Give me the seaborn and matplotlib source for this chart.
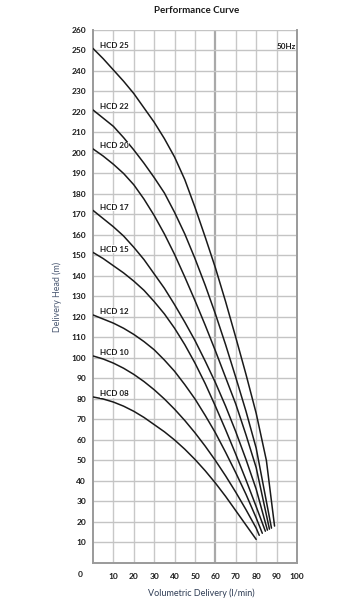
import matplotlib
matplotlib.use('Agg')
import matplotlib.pyplot as plt
import seaborn as sns
import pandas as pd

# pump curves (flow l/min, head m)
models = ['HCD 08', 'HCD 10', 'HCD 12', 'HCD 15', 'HCD 17', 'HCD 20', 'HCD 22', 'HCD 25']

q_base = [0, 5, 10, 15, 20, 25, 30, 35, 40, 45, 50, 55, 60, 65, 70, 75, 80]

q_08 = q_base
h_08 = [81, 80, 78.5, 76.5, 74, 71, 67.5, 64, 60, 55.5, 50.5, 45, 39, 32.5, 25.5, 18.5, 11.5]

q_10 = q_base + [81.5]
h_10 = [101, 99.5, 97.5, 95, 92, 88.5, 84.5, 80, 75, 69.5, 63.5, 57, 50, 42.5, 34.5, 26, 17, 13.5]

q_12 = q_base + [83]
h_12 = [121, 119, 117, 114.5, 111.5, 108, 104, 99, 93.5, 87, 80, 72, 63.5, 54, 44, 33.5, 22, 14.5]

q_15 = q_base + [84.5]
h_15 = [151.5, 148.5, 145, 141.5, 137.5, 133, 127.5, 121.5, 114.5, 106.5, 97.5, 87.5, 76.5, 65, 53, 40.5, 27.5, 15.5]

q_17 = q_base + [85.5]
h_17 = [172, 168, 164, 159.5, 154, 148, 141, 134, 126, 117.5, 108.5, 98.5, 88, 76.5, 64, 50.5, 36, 16]

q_20 = q_base + [86.5]
h_20 = [202, 198.5, 194.5, 190, 184.5, 177.5, 169.5, 160.5, 150.5, 139.5, 128, 116, 103.5, 90.5, 77.5, 62.5, 46.5, 16.5]

q_22 = q_base + [87.5]
h_22 = [221, 217, 213, 207.5, 201.5, 195, 188, 180.5, 171, 160.5, 148.5, 135.5, 121.5, 106.5, 90.5, 74, 56, 17]

q_25 = q_base + [85, 89]
h_25 = [251, 246, 240.5, 235, 229, 222, 215, 207, 198, 187, 173.5, 159, 144, 127.5, 110, 92, 73, 50, 18]

flows = [q_08, q_10, q_12, q_15, q_17, q_20, q_22, q_25]
heads = [h_08, h_10, h_12, h_15, h_17, h_20, h_22, h_25]

frames = []
for m, q, h in zip(models, flows, heads):
    frames.append(pd.DataFrame({'model': m, 'flow': q, 'head': h}))
df = pd.concat(frames, ignore_index=True)

x_ticks = [10, 20, 30, 40, 50, 60, 70, 80, 90, 100]
y_ticks = list(range(10, 270, 10))

sns.set_style('white')
plt.rcParams['font.family'] = ['Lato', 'DejaVu Sans']

fig = plt.figure(figsize=(3.64, 6.0), dpi=100)
ax = fig.add_axes([0.2555, 0.0617, 0.5604, 0.8883])

# grid
for x in x_ticks:
    if x == 60:
        ax.axvline(x, color='#a9a9a9', lw=1.6, zorder=0)
    else:
        ax.axvline(x, color='#c8c8c8', lw=1.0, zorder=0)
for y in y_ticks:
    ax.axhline(y, color='#c4c4c4', lw=1.0, zorder=0)

sns.lineplot(data=df, x='flow', y='head', hue='model', palette=['#1a1a1a'] * 8,
             legend=False, lw=1.1, sort=False, ax=ax, zorder=3)

for m, h in zip(models, heads):
    ax.text(3.5, h[0] + 1.5, m, fontsize=5.8, fontweight='bold', color='#1a1a1a',
            ha='left', va='center',
            bbox=dict(facecolor='white', edgecolor='none', pad=0.3))

ax.text(99.3, 252, '50Hz', fontsize=5.8, fontweight='bold', color='#1a1a1a',
        ha='right', va='center')

ax.set_xlim(0, 100)
ax.set_ylim(0, 260)
ax.set_xticks(x_ticks)
ax.set_yticks(y_ticks)
ax.tick_params(axis='both', length=0, labelsize=6, colors='#1a1a1a')
ax.tick_params(axis='x', pad=7)
ax.tick_params(axis='y', pad=5)
for lab in ax.get_xticklabels() + ax.get_yticklabels():
    lab.set_fontweight('bold')

ax.text(-5, -5.5, '0', fontsize=6, fontweight='bold', color='#1a1a1a',
        ha='right', va='center', transform=ax.transData, clip_on=False)

for s in ['left', 'bottom', 'right']:
    ax.spines[s].set_color('#9a9a9a')
    ax.spines[s].set_linewidth(1.4)
ax.spines['top'].set_visible(False)

ax.set_xlabel('Volumetric Delivery (l/min)', fontsize=6.5, color='#2f3d55')
ax.set_ylabel('Delivery Head (m)', fontsize=6.4, color='#4a5872')
ax.xaxis.set_label_coords(0.53, -0.047)
ax.yaxis.set_label_coords(-0.15, 0.5)
ax.set_title('Performance Curve', fontsize=7, fontweight='bold', color='#1a1a1a', pad=12, x=0.51)

fig.savefig('out.png', dpi=100)
